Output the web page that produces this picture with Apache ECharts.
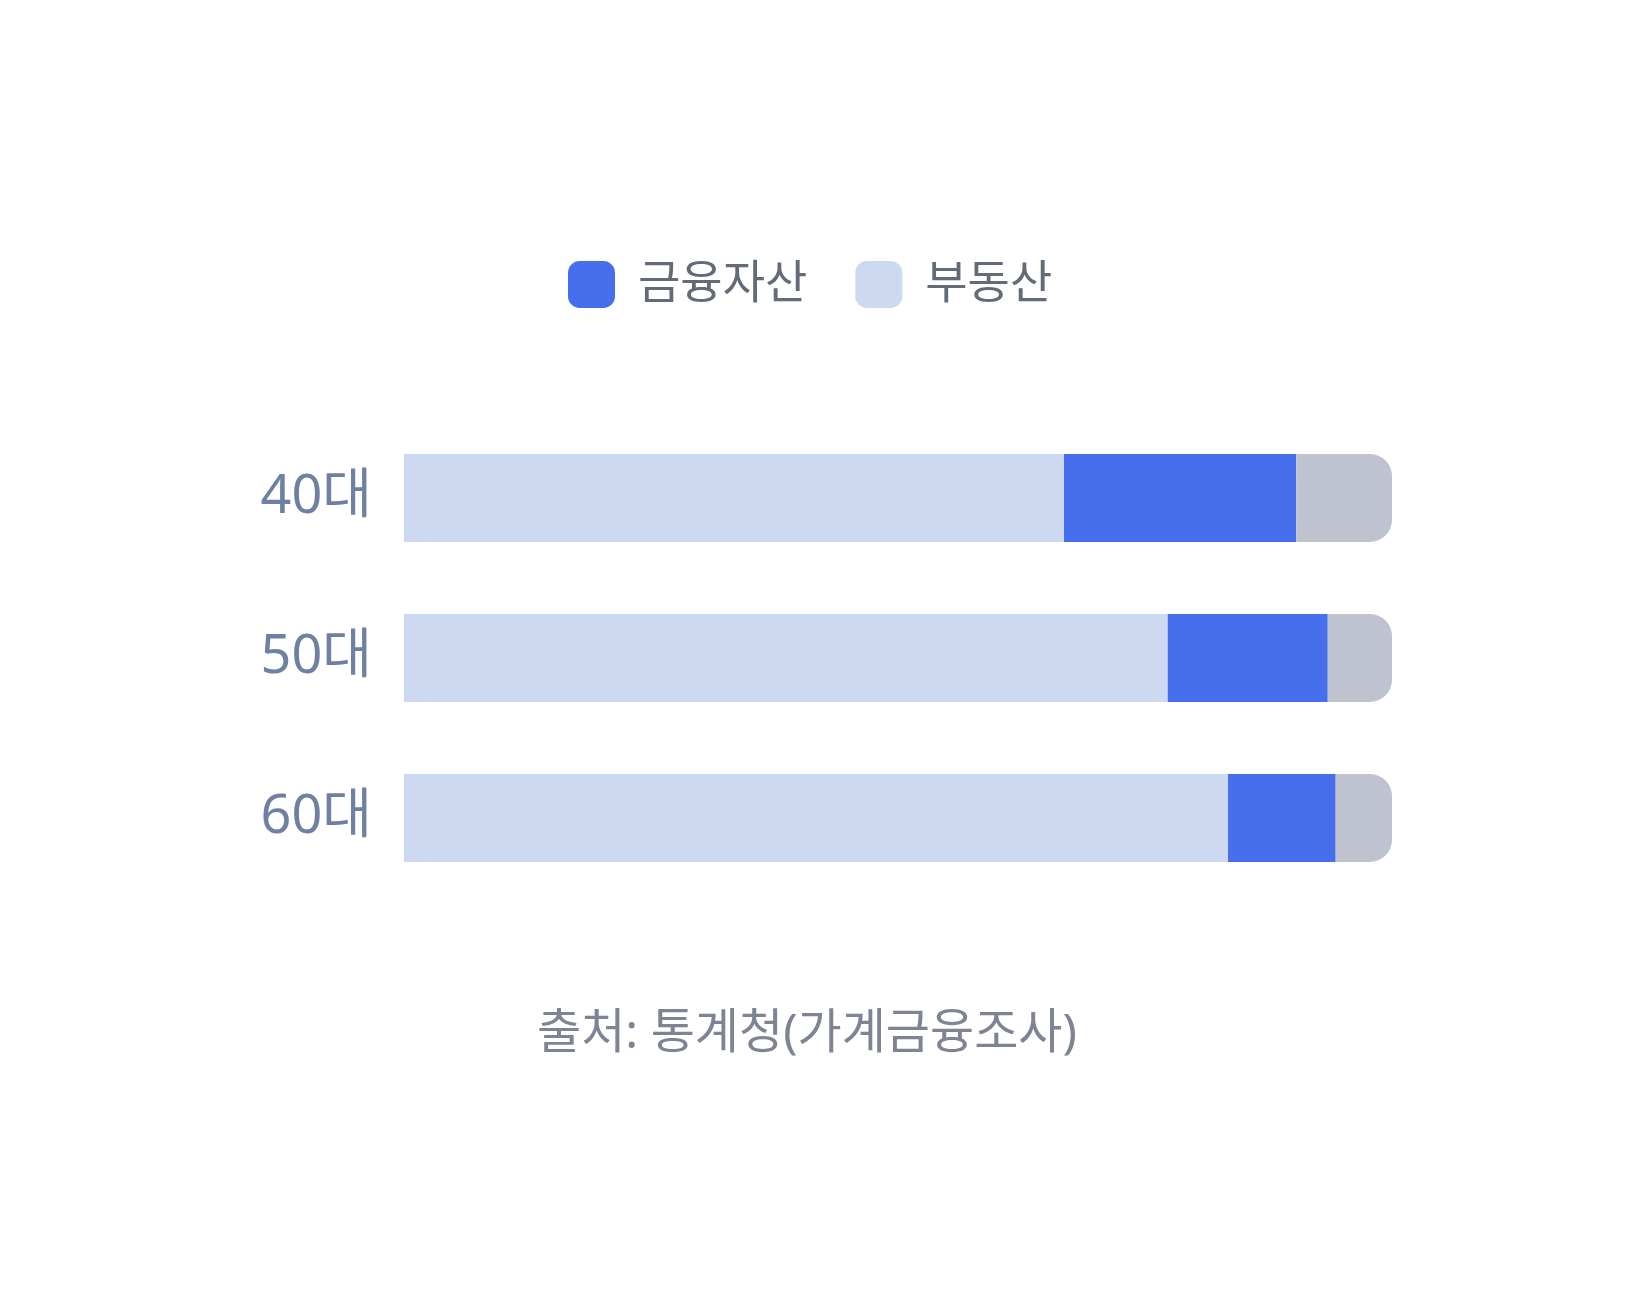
<!DOCTYPE html>
<html>
<head>
<meta charset="utf-8">
<script src="https://cdn.jsdelivr.net/npm/echarts@6/dist/echarts.min.js"></script>
<style>
  html, body { margin: 0; padding: 0; background: #fff; }
  #chart { width: 1632px; height: 1313px; }
</style>
</head>
<body>
<div id="chart"></div>
<script>
// 연령대별 자산 구성 (%)
const categories = ['40대', '50대', '60대'];
const realEstate = [66.8, 77.3, 83.4];
const financial = [23.5, 16.2, 10.9];
const other = [9.7, 6.5, 5.7];
const legendNames = ['금융자산', '부동산'];
const sourceText = '출처: 통계청(가계금융조사)';

// 숫자/기호는 Noto Sans, 한글은 CJK 폰트로
const FONT = '"Noto Sans", "Noto Sans CJK KR", sans-serif';

const chart = echarts.init(document.getElementById('chart'));

const option = {
    backgroundColor: '#ffffff',
    animation: false,
    title: {
        text: sourceText,
        left: 532,
        top: 1005,
        textStyle: {
            fontFamily: FONT,
            fontSize: 48,
            fontWeight: 'normal',
            color: '#7e8494'
        }
    },
    legend: {
        data: legendNames,
        left: 563,
        top: 256,
        icon: 'roundRect',
        itemWidth: 47,
        itemHeight: 47,
        itemGap: 48,
        selectedMode: false,
        textStyle: {
            fontFamily: FONT,
            fontSize: 46,
            color: '#646b78',
            padding: [0, 0, 0, 18]
        }
    },
    grid: {
        left: 404,
        right: 240,
        top: 418,
        bottom: 415
    },
    xAxis: {
        type: 'value',
        min: 0,
        max: 100,
        show: false
    },
    yAxis: {
        type: 'category',
        data: categories,
        inverse: true,
        axisLine: { show: false },
        axisTick: { show: false },
        splitLine: { show: false },
        axisLabel: {
            margin: 32,
            fontFamily: FONT,
            fontSize: 54,
            color: '#6e81a2'
        }
    },
    series: [
        {
            name: '부동산',
            type: 'bar',
            stack: 'total',
            barWidth: 88,
            itemStyle: { color: '#cdd9f0' },
            data: realEstate
        },
        {
            name: '금융자산',
            type: 'bar',
            stack: 'total',
            barWidth: 88,
            itemStyle: { color: '#476eec' },
            data: financial
        },
        {
            name: '기타',
            type: 'bar',
            stack: 'total',
            barWidth: 88,
            itemStyle: { color: '#bfc3cf', borderRadius: [0, 22, 22, 0] },
            data: other
        }
    ]
};

chart.setOption(option);
</script>
</body>
</html>
